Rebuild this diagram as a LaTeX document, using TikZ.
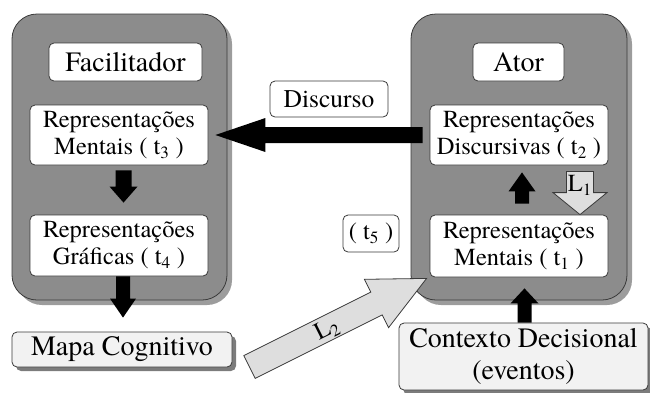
\documentclass[tikz,border=0pt]{standalone}
\usepackage{fontspec}
\IfFontExistsTF{TeX Gyre Termes}{\setmainfont{TeX Gyre Termes}}{\setmainfont{Liberation Serif}}
\usetikzlibrary{calc,shadows}
\definecolor{boxgray}{HTML}{8C8C8C}
\definecolor{boxshadow}{HTML}{9C9C9C}
\definecolor{edgecol}{HTML}{3A3A3A}
\definecolor{paper}{HTML}{F2F2F2}
\definecolor{lightarrow}{HTML}{DEDEDE}
\definecolor{nodeshadow}{HTML}{7C7C7C}
% style, start, end, half shaft, half head, head length
\newcommand{\blockarr}[6]{%
  \coordinate (ba-b) at ($(#3)!#6!(#2)$);
  \path[#1] ($(#2)!#4!90:(#3)$) -- ($(ba-b)!#4!90:(#3)$) -- ($(ba-b)!#5!90:(#3)$) -- (#3)
    -- ($(ba-b)!#5!-90:(#3)$) -- ($(ba-b)!#4!-90:(#3)$) -- ($(#2)!#4!-90:(#3)$) -- cycle;
}
\begin{document}
\begin{tikzpicture}[x=1pt,y=-1pt,
  container/.style={draw=edgecol, line width=0.8pt, fill=boxgray, rounded corners=25pt, inner sep=0pt,
    drop shadow={shadow xshift=5pt, shadow yshift=-5pt, fill=boxshadow, opacity=1}},
  textbox/.style={draw=edgecol, line width=0.8pt, fill=white, rounded corners=5pt, inner sep=0pt, align=center},
  paperbox/.style={textbox, fill=paper, drop shadow={shadow xshift=4pt, shadow yshift=-4pt, fill=nodeshadow, opacity=1}},
  titlefont/.style={font=\fontsize{28}{32}\selectfont},
  repfont/.style={font=\fontsize{24.5}{27}\selectfont},
  blackarrow/.style={fill=black},
  lightblock/.style={fill=lightarrow, draw=edgecol, line width=0.8pt, line join=miter},
]
\useasboundingbox (0,0) rectangle (650,392);

% containers
\node[container, minimum width=215pt, minimum height=286pt] (facc) at (119.5,157) {};
\node[container, minimum width=216pt, minimum height=286pt] (atorc) at (519,157) {};

% left column
\node[textbox, titlefont, minimum width=153pt, minimum height=38pt] (fac) at (125.5,62) {Facilitador};
\node[textbox, repfont, minimum width=178pt, minimum height=60pt] (rm3) at (119,135) {Representações\\Mentais ( t\textsubscript{3} )};
\node[textbox, repfont, minimum width=178pt, minimum height=61pt] (rg4) at (119,245.5) {Representações\\Gráficas ( t\textsubscript{4} )};
\node[paperbox, titlefont, minimum width=220pt, minimum height=35pt] (mapa) at (122,349.5) {Mapa Cognitivo};

% middle
\node[textbox, font=\fontsize{25.5}{28}\selectfont, minimum width=118pt, minimum height=36pt] (disc) at (329,99) {Discurso};
\node[textbox, repfont, minimum width=56pt, minimum height=37pt] (t5) at (371,233.5) {( t\textsubscript{5} )};

% right column
\node[textbox, titlefont, minimum width=91pt, minimum height=38pt] (ator) at (518.5,62) {Ator};
\node[textbox, repfont, minimum width=178pt, minimum height=60pt] (rd2) at (519,135) {Representações\\Discursivas ( t\textsubscript{2} )};
\node[textbox, repfont, minimum width=178pt, minimum height=62pt] (rm1) at (519,246) {Representações\\Mentais ( t\textsubscript{1} )};
\node[paperbox, titlefont, minimum width=249pt, minimum height=67pt] (ctx) at (523.5,356.5) {Contexto Decisional\\(eventos)};

% arrow end points
\coordinate (a1s) at ($(rd2.west)+(-7,0)$);
\coordinate (a1e) at ($(rm3.east)+(7,0)$);
\coordinate (a2s) at ($(rm3.south)+(4.5,5)$);
\coordinate (a2e) at ($(rg4.north)+(4.5,-12)$);
\coordinate (a3s) at ($(rg4.south)+(4,0)$);
\coordinate (a3e) at ($(mapa.north)+(1,-14)$);
\coordinate (a4s) at ($(rm1.north)+(3,-11)$);
\coordinate (a4e) at ($(rd2.south)+(3,7)$);
\coordinate (a5s) at ($(ctx.north)+(1,0)$);
\coordinate (a5e) at ($(rm1.south)+(5.5,11)$);
\coordinate (l1s) at ($(rd2.south)+(61,6)$);
\coordinate (l1e) at ($(rm1.north)+(61,0)$);
\coordinate (l2s) at (249.5,367);
\coordinate (l2e) at ($(rm1.south west)+(-3,1)$);

\blockarr{blackarrow}{a1s}{a1e}{8pt}{17pt}{50pt}
\blockarr{blackarrow}{a2s}{a2e}{8pt}{14pt}{16pt}
\blockarr{blackarrow}{a3s}{a3e}{7pt}{13pt}{19pt}
\blockarr{blackarrow}{a4s}{a4e}{7pt}{13.5pt}{19pt}
\blockarr{blackarrow}{a5s}{a5e}{7pt}{14pt}{15pt}
\blockarr{lightblock}{l1s}{l1e}{13.5pt}{27pt}{22pt}
\blockarr{lightblock}{l2s}{l2e}{12.75pt}{27pt}{56pt}

\node[repfont, inner sep=0pt] (l1lab) at ($(l1s)!0.33!(l1e)$) {L\textsubscript{1}};
\node[repfont, inner sep=0pt, rotate=26.6] (l2lab) at (327,330) {L\textsubscript{2}};
\end{tikzpicture}
\end{document}
